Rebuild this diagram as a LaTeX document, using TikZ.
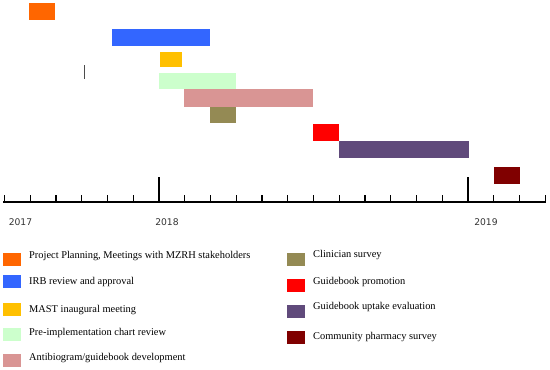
\documentclass[tikz,border=0pt]{standalone}
\usepackage{fontspec}
\setmainfont{Liberation Serif}
\newfontfamily\yearfont{DejaVu Sans}
\begin{document}
\begin{tikzpicture}[x=1pt,y=-1pt,
  bar/.style={rectangle,inner sep=0pt,outer sep=0pt,anchor=north west},
  swatch/.style={rectangle,inner sep=0pt,outer sep=0pt,minimum width=18pt,minimum height=13pt,anchor=north west},
  legtext/.style={anchor=west,inner sep=0pt,font=\fontsize{10.4}{12}\selectfont},
  year/.style={inner sep=0pt,font=\yearfont\fontsize{9.2}{11}\selectfont,text=black!80},
  tick/.style={line width=1.4pt},
  bigtick/.style={line width=1.6pt}]
\useasboundingbox (0,0) rectangle (550,370);
\definecolor{cOrange}{HTML}{FF6600}
\definecolor{cBlue}{HTML}{3366FF}
\definecolor{cYellow}{HTML}{FFC000}
\definecolor{cGreen}{HTML}{CCFFCC}
\definecolor{cPink}{HTML}{D99594}
\definecolor{cOlive}{HTML}{948A54}
\definecolor{cRed}{HTML}{FF0000}
\definecolor{cPurple}{HTML}{604A7B}
\definecolor{cDark}{HTML}{800000}
% bars
\node[bar,fill=cOrange,minimum width=26pt,minimum height=17pt] (b1) at (29,3) {};
\node[bar,fill=cBlue,minimum width=98pt,minimum height=17pt] (b2) at (112,29) {};
\node[bar,fill=cYellow,minimum width=22pt,minimum height=15pt] (b3) at (160,52) {};
\node[bar,fill=cGreen,minimum width=77pt,minimum height=16pt] (b4) at (159,73) {};
\node[bar,fill=cPink,minimum width=129pt,minimum height=18pt] (b5) at (184,89) {};
\node[bar,fill=cOlive,minimum width=26pt,minimum height=16pt] (b6) at (210,107) {};
\node[bar,fill=cRed,minimum width=26pt,minimum height=17pt] (b7) at (313,124) {};
\node[bar,fill=cPurple,minimum width=130pt,minimum height=17pt] (b8) at (339,141) {};
\node[bar,fill=cDark,minimum width=26pt,minimum height=17pt] (b9) at (494,167) {};
\coordinate (m1) at (84,65);
\coordinate (m2) at (84,79);
\draw[black!70,line width=0.8pt] (m1) -- (m2);
% axis
\coordinate (a0) at (3,202);
\coordinate (a1) at (546,202);
\draw[line width=2pt] (a0) -- (a1);
\foreach \i in {0,...,21}{
  \pgfmathsetmacro{\xx}{4.5+\i*25.75}
  \draw[tick] (\xx,202) -- (\xx,195);
}
\draw[bigtick] (159,202) -- (159,177);
\draw[bigtick] (468,202) -- (468,177);
\node[year] (y1) at (20.5,222) {2017};
\node[year] (y2) at (167,222) {2018};
\node[year] (y3) at (486,222) {2019};
% legend left
\node[swatch,fill=cOrange] (s1) at (3,253) {};
\node[legtext] (t1) at (29,256) {Project Planning, Meetings with MZRH stakeholders};
\node[swatch,fill=cBlue] (s2) at (3,275) {};
\node[legtext] (t2) at (29,282) {IRB review and approval};
\node[swatch,fill=cYellow] (s3) at (3,303) {};
\node[legtext] (t3) at (29,310) {MAST inaugural meeting};
\node[swatch,fill=cGreen] (s4) at (3,328) {};
\node[legtext] (t4) at (29,333) {Pre-implementation chart review};
\node[swatch,fill=cPink] (s5) at (3,354) {};
\node[legtext] (t5) at (29,358) {Antibiogram/guidebook development};
% legend right
\node[swatch,fill=cOlive] (s6) at (287,253) {};
\node[legtext] (t6) at (313,255) {Clinician survey};
\node[swatch,fill=cRed] (s7) at (287,279) {};
\node[legtext] (t7) at (313,282) {Guidebook promotion};
\node[swatch,fill=cPurple] (s8) at (287,305) {};
\node[legtext] (t8) at (313,307) {Guidebook uptake evaluation};
\node[swatch,fill=cDark] (s9) at (287,331) {};
\node[legtext] (t9) at (313,337) {Community pharmacy survey};
\end{tikzpicture}
\end{document}
